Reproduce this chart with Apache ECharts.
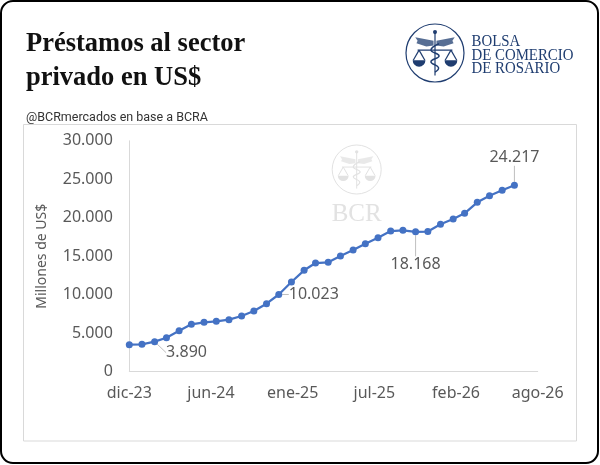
<!DOCTYPE html>
<html>
<head>
<meta charset="utf-8">
<script src="https://cdn.jsdelivr.net/npm/echarts@6/dist/echarts.min.js"></script>
<style>
  html, body { margin: 0; padding: 0; background: #fff; }
  #chart { width: 600px; height: 465px; }
</style>
</head>
<body>
<div id="chart"></div>
<script>
// monthly stock of loans to the private sector in US$ (millions)
const months = [
  '2023-12', '2024-01', '2024-02', '2024-03', '2024-04', '2024-05', '2024-06', '2024-07',
  '2024-08', '2024-09', '2024-10', '2024-11', '2024-12', '2025-01', '2025-02', '2025-03',
  '2025-04', '2025-05', '2025-06', '2025-07', '2025-08', '2025-09', '2025-10', '2025-11',
  '2025-12', '2026-01', '2026-02', '2026-03', '2026-04', '2026-05', '2026-06', '2026-07'
]
const loans = [
  3496, 3548, 3890, 4406, 5316, 6148, 6408, 6538,
  6746, 7226, 7876, 8825, 10023, 11645, 13166, 14115,
  14206, 15025, 15805, 16623, 17403, 18274, 18365, 18168,
  18210, 19145, 19834, 20575, 22004, 22862, 23564, 24217
]
const xTickLabels = ['dic-23', 'jun-24', 'ene-25', 'jul-25', 'feb-26', 'ago-26']
const xTickDays = 200

const startDate = Date.UTC(2023, 11, 1)
const dayOf = (m) => {
  const [y, mo] = m.split('-').map(Number)
  return (Date.UTC(y, mo - 1, 1) - startDate) / 864e5
}
const fmt = (v) => String(v).replace(/\B(?=(\d{3})+(?!\d))/g, '.')

// which points carry a value label, and how it is placed
const callouts = {
  2: { position: 'right', distance: 4, dx: 4, dy: 11 },
  12: { position: 'right', distance: 6.5 },
  23: { position: 'bottom', distance: 4, dy: 17 },
  31: { position: 'top', distance: 4, dy: -12 }
}

const seriesData = months.map((m, i) => {
  const item = { value: [dayOf(m), loans[i]] }
  if (callouts[i]) {
    item.label = { show: true, position: callouts[i].position, distance: callouts[i].distance }
  }
  return item
})

function emblem (cx, cy, R, color, lw) {
  const els = []
  const line = (x1, y1, x2, y2) => els.push({
    type: 'line', shape: { x1, y1, x2, y2 }, style: { stroke: color, lineWidth: lw }, silent: true
  })
  els.push({ type: 'circle', shape: { cx, cy, r: R }, style: { fill: 'none', stroke: color, lineWidth: lw }, silent: true })
  line(cx, cy - 0.72 * R, cx, cy + 0.78 * R)
  els.push({ type: 'circle', shape: { cx, cy: cy - 0.72 * R, r: 0.07 * R }, style: { fill: color }, silent: true })
  ;[-1, 1].forEach(s => {
    els.push({
      type: 'polygon',
      shape: { points: [
        [cx + s * 0.05 * R, cy - 0.42 * R], [cx + s * 0.68 * R, cy - 0.54 * R],
        [cx + s * 0.6 * R, cy - 0.42 * R], [cx + s * 0.64 * R, cy - 0.34 * R],
        [cx + s * 0.3 * R, cy - 0.22 * R], [cx + s * 0.05 * R, cy - 0.26 * R]
      ] },
      style: { fill: color, opacity: 0.75 }, silent: true
    })
    const px = cx + s * 0.55 * R
    line(px, cy - 0.1 * R, px - 0.2 * R, cy + 0.25 * R)
    line(px, cy - 0.1 * R, px + 0.2 * R, cy + 0.25 * R)
    els.push({
      type: 'sector',
      shape: { cx: px, cy: cy + 0.25 * R, r: 0.22 * R, r0: 0, startAngle: 0, endAngle: Math.PI },
      style: { fill: color }, silent: true
    })
  })
  line(cx - 0.6 * R, cy - 0.1 * R, cx + 0.6 * R, cy - 0.1 * R)
  els.push({
    type: 'polyline',
    shape: { smooth: 0.5, points: [
      [cx + 0.14 * R, cy - 0.32 * R], [cx - 0.14 * R, cy - 0.1 * R], [cx + 0.14 * R, cy + 0.1 * R],
      [cx - 0.14 * R, cy + 0.3 * R], [cx + 0.12 * R, cy + 0.5 * R], [cx, cy + 0.66 * R]
    ] },
    style: { fill: 'none', stroke: color, lineWidth: lw * 1.2 }, silent: true
  })
  return els
}

const navy = '#1f3d70'
const wm = '#e2e2e2'
const logoText = (text, y) => ({
  type: 'text', x: 471.5, y, scaleX: 0.9,
  style: { text, fontFamily: 'Liberation Serif', fontSize: 16.5, fill: navy, verticalAlign: 'middle' },
  silent: true
})

let myChart = echarts.init(document.getElementById('chart'))
myChart.setOption({
  animation: false,
  backgroundColor: '#fff',
  title: [
    {
      text: 'Préstamos al sector\nprivado en US$',
      left: 21,
      top: 22,
      textStyle: {
        fontFamily: 'Liberation Serif',
        fontWeight: 'bold',
        fontSize: 26.5,
        lineHeight: 34,
        color: '#111'
      }
    },
    {
      text: '@BCRmercados en base a BCRA',
      left: 21,
      top: 106,
      textStyle: {
        fontFamily: 'Roboto',
        fontWeight: 'normal',
        fontSize: 12.5,
        color: '#333'
      }
    }
  ],
  graphic: [
    {
      type: 'rect',
      shape: { x: 1, y: 1, width: 597, height: 462, r: 12 },
      style: { fill: 'none', stroke: '#000', lineWidth: 2 },
      silent: true
    },
    {
      type: 'rect',
      shape: { x: 23.5, y: 124.5, width: 553, height: 316.5 },
      style: { fill: 'none', stroke: '#d9d9d9', lineWidth: 1 },
      silent: true
    },
    ...emblem(435, 53, 29, navy, 1.2),
    logoText('BOLSA', 42),
    logoText('DE COMERCIO', 55.5),
    logoText('DE ROSARIO', 69),
    // faint watermark inside the plot
    ...emblem(356.7, 169.5, 24.5, wm, 1),
    { type: 'text', x: 356.7, y: 214, style: { text: 'BCR', fontFamily: 'Liberation Serif', fontSize: 25, fill: wm, align: 'center', verticalAlign: 'middle' }, silent: true }
  ],
  grid: {
    left: 129.3,
    right: 62.3,
    top: 140.8,
    bottom: 93.4
  },
  xAxis: {
    type: 'value',
    min: 0,
    max: xTickDays * (xTickLabels.length - 1),
    interval: xTickDays,
    axisLine: { show: true, lineStyle: { color: '#d9d9d9', width: 1 } },
    axisTick: { show: false },
    splitLine: { show: false },
    axisLabel: {
      margin: 14,
      fontFamily: 'Noto Sans',
      fontSize: 16,
      color: '#595959',
      formatter: (v) => xTickLabels[Math.round(v / xTickDays)]
    }
  },
  yAxis: {
    type: 'value',
    min: 0,
    max: 30000,
    interval: 5000,
    name: 'Millones de US$',
    nameLocation: 'middle',
    nameRotate: 90,
    nameGap: 80,
    nameTextStyle: { fontFamily: 'Noto Sans', fontSize: 14, color: '#595959' },
    axisLine: { show: true, lineStyle: { color: '#d9d9d9', width: 1 } },
    axisTick: { show: false },
    splitLine: { show: false },
    axisLabel: {
      margin: 16.5,
      fontFamily: 'Noto Sans',
      fontSize: 16,
      color: '#595959',
      formatter: fmt
    }
  },
  series: [
    {
      name: 'Préstamos',
      type: 'line',
      data: seriesData,
      symbol: 'circle',
      symbolSize: 7,
      lineStyle: { color: '#4472C4', width: 2.25 },
      itemStyle: { color: '#4472C4' },
      label: {
        show: false,
        fontFamily: 'Noto Sans',
        fontSize: 16,
        color: '#595959',
        formatter: (p) => fmt(p.value[1])
      },
      labelLine: {
        show: true,
        lineStyle: { color: '#bfbfbf', width: 1 }
      },
      labelLayout: (p) => {
        const c = callouts[p.dataIndex]
        return c ? { dx: c.dx || 0, dy: c.dy || 0 } : {}
      },
      z: 5
    }
  ]
})
</script>
</body>
</html>
